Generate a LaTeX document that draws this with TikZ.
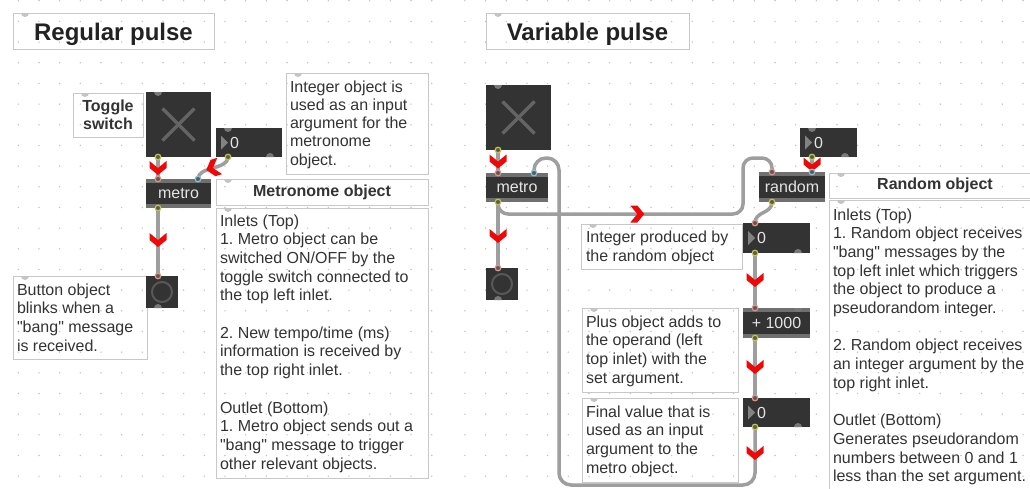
\documentclass[tikz,border=0pt]{standalone}
\usepackage{fontspec}
\setmainfont{Liberation Sans}[Ligatures=TeXOff]
\usetikzlibrary{calc,decorations.markings}
\frenchspacing

\definecolor{objfill}{RGB}{51,51,51}
\definecolor{stripe}{RGB}{112,112,112}
\definecolor{cablec}{RGB}{158,158,158}
\definecolor{chevc}{RGB}{240,8,8}
\definecolor{outc}{RGB}{196,196,72}
\definecolor{inlc}{RGB}{226,146,136}
\definecolor{inrc}{RGB}{136,196,216}
\definecolor{portfill}{RGB}{90,90,90}
\definecolor{combord}{RGB}{200,200,200}
\definecolor{txt}{RGB}{51,51,51}
\definecolor{titlec}{RGB}{34,34,34}
\definecolor{handlec}{RGB}{196,196,196}
\definecolor{ohandle}{RGB}{120,120,120}
\definecolor{dotc}{RGB}{196,196,196}
\definecolor{objtext}{RGB}{228,228,228}
\definecolor{tric}{RGB}{130,130,130}
\definecolor{xc}{RGB}{100,100,100}
\definecolor{ringc}{RGB}{88,88,88}

\newcommand\portring[2]{\filldraw[draw=#1, fill=portfill, line width=1.2pt] (#2) circle[radius=2.8pt];}
\newcommand\hdown[2]{\fill[#1] (#2) ++(-4pt,0pt) arc[start angle=180,end angle=360,radius=4pt] -- cycle;}
\newcommand\hup[2]{\fill[#1] (#2) ++(-4pt,0pt) arc[start angle=180,end angle=0,radius=4pt] -- cycle;}

\tikzset{
  every node/.style={inner sep=0pt, outer sep=0pt},
  combox/.style={draw=combord, line width=1pt, anchor=north west},
  comtext/.style={anchor=base west, text=txt, font=\fontsize{16}{18.7}\selectfont},
  headtext/.style={text=txt, font=\bfseries\fontsize{16}{19}\selectfont},
  titletext/.style={anchor=base, text=titlec, font=\bfseries\fontsize{24}{28}\selectfont},
  darkobj/.style={anchor=north west, fill=objfill},
  maxobj/.style={darkobj, text=objtext, font=\fontsize{16}{19}\selectfont,
    path picture={
      \fill[stripe] (path picture bounding box.north west) rectangle ([yshift=-4pt]path picture bounding box.north east);
      \fill[stripe] (path picture bounding box.south west) rectangle ([yshift=4pt]path picture bounding box.south east);
    }},
  numbox/.style={darkobj, path picture={
      \fill[tric] ([xshift=5pt,yshift=7pt]path picture bounding box.west) -- ([xshift=12pt]path picture bounding box.west) -- ([xshift=5pt,yshift=-7pt]path picture bounding box.west) -- cycle;}},
  numtext/.style={anchor=west, text=objtext, font=\fontsize{16}{19}\selectfont},
  togglebox/.style={darkobj, path picture={
      \draw[xc, line width=3.5pt] ([xshift=-16pt,yshift=-16pt]path picture bounding box.center) -- ([xshift=16pt,yshift=16pt]path picture bounding box.center);
      \draw[xc, line width=3.5pt] ([xshift=-16pt,yshift=16pt]path picture bounding box.center) -- ([xshift=16pt,yshift=-16pt]path picture bounding box.center);}},
  buttonbox/.style={darkobj, path picture={
      \draw[ringc, line width=2pt] (path picture bounding box.center) circle[radius=10pt];}},
  cable/.style={draw=cablec, line width=3.5pt},
  chev/.style={postaction={decorate, decoration={markings, mark=at position #1 with {
      \fill[chevc, sharp corners] (-7pt,8.5pt) -- (0pt,8.5pt) -- (7pt,0pt) -- (0pt,-8.5pt) -- (-7pt,-8.5pt) -- (0pt,0pt) -- cycle;}}}},
}

\begin{document}
\begin{tikzpicture}[x=1pt,y=-1pt]
\useasboundingbox (0,0) rectangle (1030,488);
\clip (0,0) rectangle (1030,488);
\fill[white] (0,0) rectangle (1030,488);

% grid dots (two patches)
\foreach \i in {1,...,21} \foreach \j in {0,...,23}
  {\fill[dotc] ({-2.37+20.67*\i},{0.75+20.67*\j}) circle[radius=0.8pt];}
\foreach \i in {22,...,49} \foreach \j in {0,...,23}
  {\fill[dotc] ({10.2+20.67*\i},{0.75+20.67*\j}) circle[radius=0.8pt];}

% ---------------- comment boxes ----------------
\node[combox, minimum width=201, minimum height=36] (titleL) at (13,13) {};
\node[titletext] (titleLt) at (113.5,40) {Regular pulse};
\node[combox, minimum width=203, minimum height=36] (titleR) at (486,13) {};
\node[titletext] (titleRt) at (587.5,40) {Variable pulse};

\node[combox, minimum width=70, minimum height=44] (togLab) at (73,93) {};
\node[headtext, align=center, font=\bfseries\fontsize{16}{18}\selectfont] (togLabt) at (108,115) {Toggle\\switch};

\node[combox, minimum width=142, minimum height=101] (intCom) at (286,73) {};
\foreach \k/\t in {0/{Integer object is},1/{used as an input},2/{argument for the},3/{metronome},4/{object.}}
  {\node[comtext] (intCom-\k) at ({290},{92+18.3*\k}) {\t};}

\node[combox, minimum width=212, minimum height=26] (metHead) at (216,179) {};
\node[headtext] (metHeadt) at (322,192) {Metronome object};

\node[combox, minimum width=212, minimum height=270] (metCom) at (216,208) {};
\foreach \k/\t in {0/{Inlets (Top)},1/{1. Metro object can be},2/{switched ON/OFF by the},3/{toggle switch connected to},4/{the top left inlet.},6/{2. New tempo/time (ms)},7/{information is received by},8/{the top right inlet.},10/{Outlet (Bottom)},11/{1. Metro object sends out a},12/{"bang" message to trigger},13/{other relevant objects.}}
  {\node[comtext] (metCom-\k) at ({220},{226+18.7*\k}) {\t};}

\node[combox, minimum width=134, minimum height=83] (btnCom) at (13,276) {};
\foreach \k/\t in {0/{Button object},1/{blinks when a},2/{"bang" message},3/{is received.}}
  {\node[comtext] (btnCom-\k) at ({17},{295+18.7*\k}) {\t};}

\node[combox, minimum width=161, minimum height=45] (intProd) at (581,224) {};
\foreach \k/\t in {0/{Integer produced by},1/{the random object}}
  {\node[comtext] (intProd-\k) at ({586},{242+19*\k}) {\t};}

\node[combox, minimum width=156, minimum height=84] (plusCom) at (582,308) {};
\foreach \k/\t in {0/{Plus object adds to},1/{the operand (left},2/{top inlet) with the},3/{set argument.}}
  {\node[comtext] (plusCom-\k) at ({586},{327+18.7*\k}) {\t};}

\node[combox, minimum width=156, minimum height=84] (finCom) at (582,398) {};
\foreach \k/\t in {0/{Final value that is},1/{used as an input},2/{argument to the},3/{metro object.}}
  {\node[comtext] (finCom-\k) at ({586},{417+18.7*\k}) {\t};}

\node[combox, minimum width=212, minimum height=25] (rndHead) at (829,173) {};
\node[headtext] (rndHeadt) at (935,185.5) {Random object};

\node[combox, minimum width=212, minimum height=300] (rndCom) at (829,200) {};
\foreach \k/\t in {0/{Inlets (Top)},1/{1. Random object receives},2/{"bang" messages by the},3/{top left inlet which triggers},4/{the object to produce a},5/{pseudorandom integer.},7/{2. Random object receives},8/{an integer argument by the},9/{top right inlet.},11/{Outlet (Bottom)},12/{Generates pseudorandom},13/{numbers between 0 and 1},14/{less than the set argument.}}
  {\node[comtext] (rndCom-\k) at ({833},{220+18.7*\k}) {\t};}

% comment handles
\foreach \n in {titleL,titleR,togLab,intCom,metHead,metCom,btnCom,intProd,plusCom,finCom,rndHead,rndCom}
  {\hdown{handlec}{$(\n.north west)+(12,0)$}}

% ---------------- objects ----------------
\node[togglebox, minimum width=65, minimum height=65] (togL) at (146,92) {};
\node[numbox, minimum width=66, minimum height=29] (numL) at (216,128) {};
\node[numtext] (numLt) at ($(numL.west)+(14,0)$) {0};
\node[maxobj, minimum width=65, minimum height=29] (metroL) at (146,179) {metro};
\node[buttonbox, minimum width=32, minimum height=32] (btnL) at (146,276) {};

\node[togglebox, minimum width=65, minimum height=65] (togR) at (486,85) {};
\node[maxobj, minimum width=62, minimum height=29] (metroR) at (486,173) {metro};
\node[buttonbox, minimum width=32, minimum height=32] (btnR) at (486,268) {};
\node[numbox, minimum width=57, minimum height=29] (numT) at (800,128) {};
\node[numtext] (numTt) at ($(numT.west)+(14,0)$) {0};
\node[maxobj, minimum width=66, minimum height=30] (rnd) at (759,172) {random};
\node[numbox, minimum width=67, minimum height=30] (numA) at (743,223) {};
\node[numtext] (numAt) at ($(numA.west)+(14,0)$) {0};
\node[maxobj, minimum width=67, minimum height=30] (plus) at (743,308) {+ 1000};
\node[numbox, minimum width=67, minimum height=29] (numB) at (743,398) {};
\node[numtext] (numBt) at ($(numB.west)+(14,0)$) {0};

% ports
\coordinate (togL-out) at ($(togL.south west)+(12,0)$);
\coordinate (numL-out) at ($(numL.south west)+(12,0)$);
\coordinate (metroL-inL) at ($(metroL.north west)+(12,0)$);
\coordinate (metroL-inR) at ($(metroL.north east)+(-13,0)$);
\coordinate (metroL-out) at ($(metroL.south west)+(12,0)$);
\coordinate (btnL-in) at ($(btnL.north west)+(12,0)$);
\coordinate (togR-out) at ($(togR.south west)+(12,0)$);
\coordinate (metroR-inL) at ($(metroR.north west)+(12,0)$);
\coordinate (metroR-inR) at ($(metroR.north east)+(-14,0)$);
\coordinate (metroR-out) at ($(metroR.south west)+(12,0)$);
\coordinate (btnR-in) at ($(btnR.north west)+(12,0)$);
\coordinate (numT-out) at ($(numT.south west)+(12,0)$);
\coordinate (rnd-inL) at ($(rnd.north west)+(13,0)$);
\coordinate (rnd-inR) at ($(rnd.north east)+(-13,0)$);
\coordinate (rnd-out) at ($(rnd.south west)+(13,0)$);
\coordinate (numA-in) at ($(numA.north west)+(12,0)$);
\coordinate (numA-out) at ($(numA.south west)+(12,0)$);
\coordinate (plus-in) at ($(plus.north west)+(12,0)$);
\coordinate (plus-out) at ($(plus.south west)+(12,0)$);
\coordinate (numB-in) at ($(numB.north west)+(12,0)$);
\coordinate (numB-out) at ($(numB.south west)+(12,0)$);

% ---------------- cables ----------------
\path[cable, chev=0.5] (togL-out) -- (metroL-inL);
\path[cable, chev=0.5] (numL-out) .. controls ($(numL-out)+(0,13)$) and ($(metroL-inR)+(0,-13)$) .. (metroL-inR);
\path[cable, chev=32pt] (metroL-out) -- (btnL-in);

\path[cable, chev=0.5] (togR-out) -- (metroR-inL);
\path[cable, chev=34pt] (metroR-out) -- (btnR-in);
\path[cable, rounded corners=12pt, chev=26pt] (numB-out) -- (755,485) -- (559,485) -- (559,158) -- (534,158) -- (metroR-inR);
\path[cable, rounded corners=10pt, chev=147pt] (metroR-out) -- (498,214) -- (743,214) -- (743,158) -- (772,158) -- (rnd-inL);
\path[cable, chev=0.5] (numT-out) -- (rnd-inR);
\path[cable] (rnd-out) .. controls ($(rnd-out)+(0,12)$) and ($(numA-in)+(0,-12)$) .. (numA-in);
\path[cable, chev=27pt] (numA-out) -- (plus-in);
\path[cable, chev=29pt] (plus-out) -- (numB-in);

% port rings
\portring{outc}{togL-out}
\portring{outc}{numL-out}
\portring{inlc}{metroL-inL}
\portring{inrc}{metroL-inR}
\portring{outc}{metroL-out}
\portring{inlc}{btnL-in}
\portring{outc}{togR-out}
\portring{inlc}{metroR-inL}
\portring{inrc}{metroR-inR}
\portring{outc}{metroR-out}
\portring{inlc}{btnR-in}
\portring{outc}{numT-out}
\portring{inlc}{rnd-inL}
\portring{inrc}{rnd-inR}
\portring{outc}{rnd-out}
\portring{inlc}{numA-in}
\portring{outc}{numA-out}
\portring{inlc}{plus-in}
\portring{outc}{plus-out}
\portring{inlc}{numB-in}
\portring{outc}{numB-out}

% unconnected port handles
\hdown{ohandle}{$(togL.north west)+(12,0)$}
\hdown{ohandle}{$(numL.north west)+(12,0)$}
\hup{ohandle}{$(numL.south east)+(-12,0)$}
\hup{ohandle}{$(btnL.south west)+(12,0)$}
\hdown{ohandle}{$(togR.north west)+(12,0)$}
\hup{ohandle}{$(btnR.south west)+(12,0)$}
\hdown{ohandle}{$(numT.north west)+(12,0)$}
\hup{ohandle}{$(numT.south east)+(-12,0)$}
\hup{ohandle}{$(numA.south east)+(-12,0)$}
\hdown{ohandle}{$(plus.north east)+(-12,0)$}
\hup{ohandle}{$(numB.south east)+(-12,0)$}
\end{tikzpicture}
\end{document}
